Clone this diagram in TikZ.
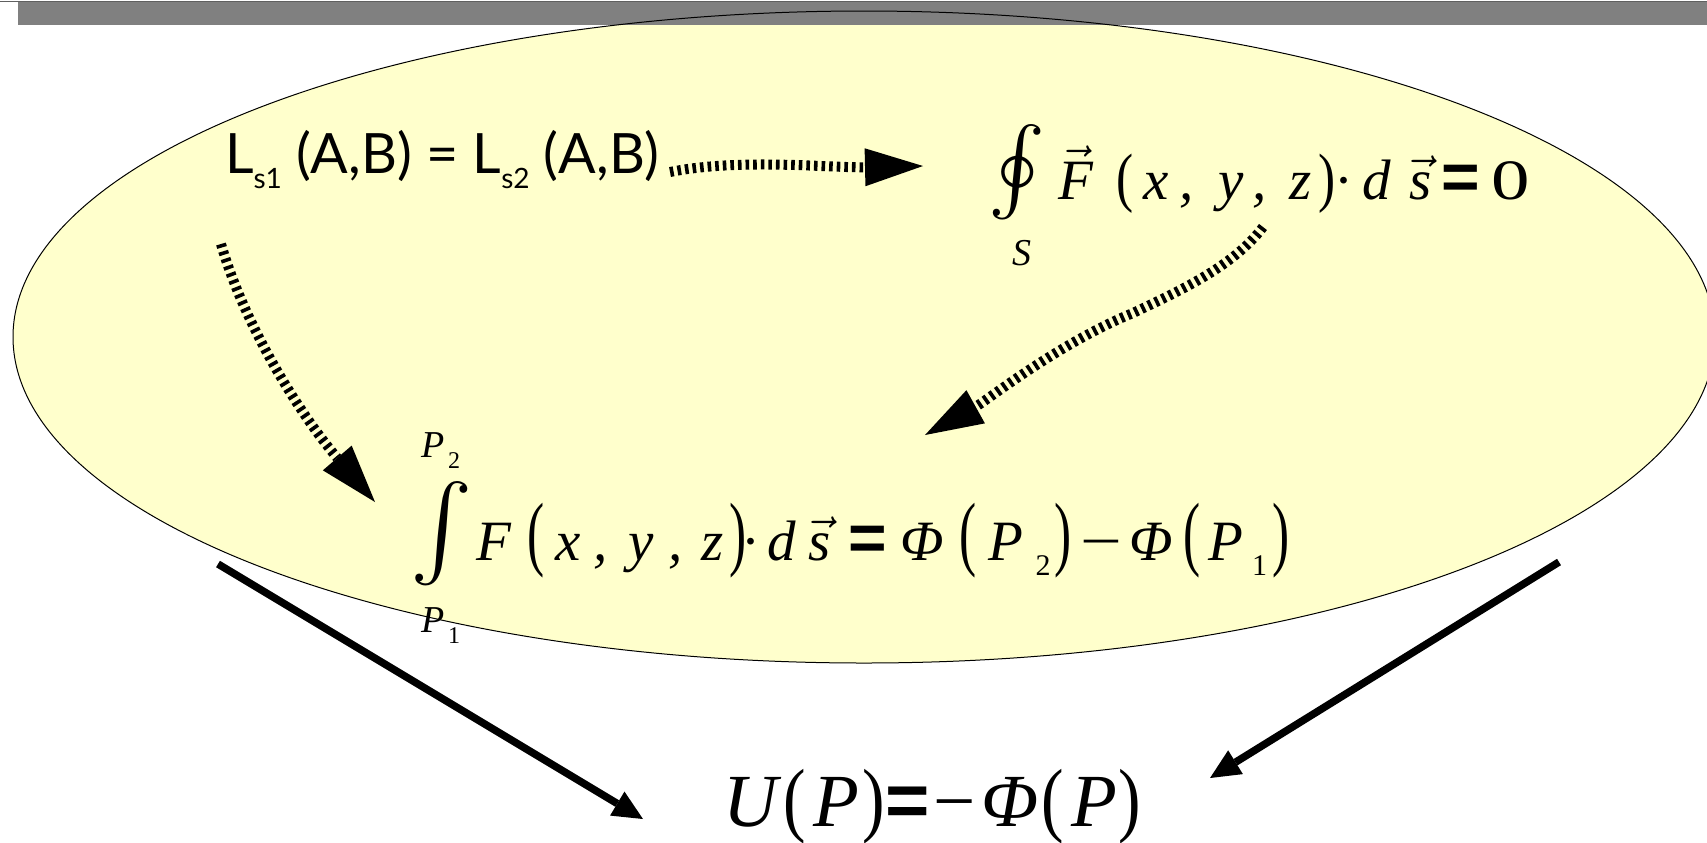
\documentclass[tikz,border=0pt]{standalone}
\usepackage{fontspec}
\usepackage{graphicx}
\usetikzlibrary{arrows.meta}
\newfontfamily\tms{Liberation Serif}
\newfontfamily\ars{Liberation Sans}
\newfontfamily\lato{Lato}
\definecolor{ellfill}{RGB}{255,255,204}
\definecolor{bargray}{RGB}{128,128,128}
\definecolor{bartop}{RGB}{96,96,96}
\newcommand\hs[1]{\hspace*{#1pt}}
\newcommand\LP[1]{\scalebox{0.9}[#1]{\upshape(}}
\newcommand\RP[1]{\scalebox{0.9}[#1]{\upshape)}}
\newcommand\bEq[1]{{\fontsize{#1}{#1}\selectfont\ars\bfseries\upshape =}}
\newcommand\mnus[1]{\scalebox{#1}[1]{\upshape −}}
\newcommand\vecit[1]{\scalebox{2.85}{\fontsize{10}{12}\selectfont$\vec{\hbox{\tms\itshape #1}}$}}
\newcommand\lsub[1]{\raisebox{-7.5pt}{\fontsize{14}{14}\selectfont #1}}
\newcommand\limsub[1]{\raisebox{-5.5pt}{\fontsize{12}{12}\selectfont\upshape #1}}
\tikzset{
  txt/.style={inner sep=0pt, outer sep=0pt},
  dasharrow/.style={line width=5pt, dash pattern=on 1.8pt off 2pt,
    -{Triangle[length=29pt,width=19pt,line width=0pt]}},
  solidarrow/.style={line width=3.75pt, -{Triangle[length=15pt,width=14pt,line width=0pt]}},
  f28/.style={font=\fontsize{28.5}{30}\selectfont\tms\itshape},
  f37/.style={font=\fontsize{37.5}{40}\selectfont\tms\itshape},
  fsb/.style={font=\fontsize{15}{15}\selectfont\tms},
  flim/.style={font=\fontsize{19}{20}\selectfont\tms\itshape},
}
\begin{document}
\begin{tikzpicture}[x=0.5pt,y=-0.5pt]
\useasboundingbox (0,0) rectangle (1707,842);
\fill[white] (0,0) rectangle (1707,842);
\begin{scope}
  \clip (0,0) rectangle (1707,842);
  \fill[ellfill] (864,337) ellipse [x radius=425.5pt, y radius=163pt];
  \fill[bargray] (18,2) rectangle (1707,25);
  \draw[bartop, line width=0.6pt] (0,1.5) -- (1707,1.5);
  \draw[black, line width=0.5pt] (864,337) ellipse [x radius=425.5pt, y radius=163pt];
\end{scope}

% top-left text
\node[txt, anchor=base west, font=\fontsize{27.8}{30}\selectfont\lato] (lab) at (225,173)
  {L\lsub{s1} (A,B) = L\lsub{s2} (A,B)};

% closed line integral
\node[txt] (oint) at (1017,172) {\scalebox{4.3}{$\textstyle\oint$}};
\node[txt, anchor=base, flim] (ointS) at (1022,265) {S};
\foreach \cx/\g [count=\i] in {1075.5/\vecit{F}, 1125/\LP{1.15}, 1156.5/x, 1187/{,},
    1231/y, 1260/{,}, 1300.5/z, 1327/\RP{1.15}, 1344/{\upshape ·}, 1376.5/d,
    1420.5/\vecit{s}, 1460.5/\bEq{33}, 1510.5/\scalebox{1.35}[1]{\upshape 0}}
  \node[txt, anchor=base, f28] (fa\i) at (\cx,199) {\g};

% line integral P1..P2
\node[txt] (int) at (441.5,534) {\scalebox{4.7}{$\textstyle\int$}};
\node[txt, anchor=base west, flim] (p2) at (421,457) {P\hs{2}\limsub{2}};
\node[txt, anchor=base west, flim] (p1) at (421,632) {P\hs{2}\limsub{1}};
\foreach \cx/\g [count=\i] in {493.5/F, 536/\LP{1.45}, 568/x, 601/{,}, 641/y,
    676/{,}, 713/z, 738/\RP{1.45}, 751/{\upshape ·}, 782/d, 820/\vecit{s},
    868/\bEq{33}, 922/Φ, 968/\LP{1.45}, 1006/P, 1063/\RP{1.45},
    1101.5/\mnus{1.3}, 1151/Φ, 1192.5/\LP{1.45}, 1225.5/P, 1281.5/\RP{1.45}}
  \node[txt, anchor=base, f28] (fb\i) at (\cx,560) {\g};
\node[txt, anchor=base, fsb] (fbs2) at (1043,575) {2};
\node[txt, anchor=base, fsb] (fbs1) at (1259.5,575) {1};

% potential energy
\foreach \cx/\g [count=\i] in {751/U, 795/\LP{1.1}, 836/P, 874/\RP{1.1}, 908/\bEq{38},
    955/\mnus{1}, 1010/Φ, 1053/\LP{1.1}, 1094/P, 1130/\RP{1.1}}
  \node[txt, anchor=base, f37] (fc\i) at (\cx,826) {\g};

% connector end points
\coordinate (h1) at (670,172);
\coordinate (h2) at (923,166);
\coordinate (l1) at (221,244);
\coordinate (l2) at (375,502);
\coordinate (r1) at (1263,227);
\coordinate (rm) at (1133,313);
\coordinate (r2) at (925,435);
\coordinate (b1) at (218,564);
\coordinate (b2) at (643,819);
\coordinate (c1) at (1559,562);
\coordinate (c2) at (1210,778);

\draw[dasharrow] (h1) .. controls +(70,-14) and +(-93,2) .. (h2);
\draw[dasharrow] (l1) .. controls +(25,86) and +(-72,-84) .. (l2);
\draw[dasharrow] (r1) .. controls +(-30,40) and +(45,-21.5) .. (rm)
                      .. controls +(-74,30) and +(61,-34) .. (r2);
\draw[solidarrow] (b1) -- (b2);
\draw[solidarrow] (c1) -- (c2);
\end{tikzpicture}
\end{document}
